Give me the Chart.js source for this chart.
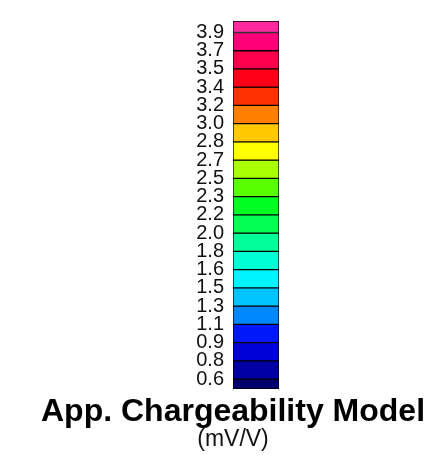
<!DOCTYPE html>
<html>
<head>
<meta charset="utf-8">
<script src="https://cdn.jsdelivr.net/npm/chart.js@4"></script>
<style>
html,body{margin:0;padding:0;background:#fff;}
#wrap{width:428px;height:461px;position:relative;}
</style>
</head>
<body>
<div id="wrap"><canvas id="c"></canvas></div>
<script>
// Colour-level boundaries (mV/V), bottom to top
const boundaries = [0.48, 0.575, 0.75, 0.925, 1.1, 1.275, 1.45, 1.625, 1.8, 1.975, 2.15, 2.325, 2.5, 2.675, 2.85, 3.025, 3.2, 3.375, 3.55, 3.725, 3.9, 4.01];
// Tick positions and their labels, bottom to top
const tickValues = [0.575, 0.75, 0.925, 1.1, 1.275, 1.45, 1.625, 1.8, 1.975, 2.15, 2.325, 2.5, 2.675, 2.85, 3.025, 3.2, 3.375, 3.55, 3.725, 3.9];
const tickLabels = ['0.6','0.8','0.9','1.1','1.3','1.5','1.6','1.8','2.0','2.2','2.3','2.5','2.7','2.8','3.0','3.2','3.4','3.5','3.7','3.9'];
// Segment colours, bottom to top
const segmentColors = ['#00006e','#0000a4','#0000d8','#0018fa','#0088ff','#00c4ff','#00f4ff','#00ffd4','#00ff98','#00ff50','#00ff20','#58ff00','#aaff00','#ffff00','#ffc800','#ff8000','#ff3000','#ff0018','#ff004c','#ff0078','#ff2aa0'];
const titleText = 'App. Chargeability Model';
const unitText = '(mV/V)';

const segments = segmentColors.map((c, i) => ({x: 'bar', y: [boundaries[i], boundaries[i + 1]]}));

new Chart(document.getElementById('c'), {
  type: 'bar',
  data: {
    labels: ['bar'],
    datasets: [{
      data: segments,
      backgroundColor: segmentColors,
      borderColor: '#000',
      borderWidth: 1,
      borderSkipped: false,
      barPercentage: 1,
      categoryPercentage: 1
    }]
  },
  options: {
    responsive: true,
    maintainAspectRatio: false,
    animation: false,
    events: [],
    layout: {padding: {left: 38, right: 0, top: 11, bottom: 10}},
    plugins: {
      legend: {display: false},
      tooltip: {enabled: false},
      title: {
        display: true, text: titleText, position: 'bottom', weight: 1000,
        color: '#000', padding: {top: 7, bottom: 0},
        font: {family: 'Liberation Sans', size: 32, weight: 'bold', lineHeight: 1.0}
      },
      subtitle: {
        display: true, text: unitText, position: 'bottom', weight: 2000,
        color: '#111', padding: {top: 0, bottom: 0},
        font: {family: 'Liberation Sans', size: 23, weight: 'normal', lineHeight: 1.0}
      }
    },
    scales: {
      x: {display: false},
      y: {
        type: 'linear', position: 'left',
        min: boundaries[0], max: boundaries[boundaries.length - 1],
        grid: {display: false, drawTicks: false},
        border: {display: false},
        afterBuildTicks: s => { s.ticks = tickValues.map(v => ({value: v})); },
        afterFit: s => { s.width = 195; },
        ticks: {
          autoSkip: false, padding: 9, color: '#111',
          font: {family: 'Liberation Sans', size: 20},
          callback: (v, i) => tickLabels[i]
        }
      },
      yR: {
        type: 'linear', position: 'right', display: true,
        grid: {display: false, drawTicks: false},
        border: {display: false},
        ticks: {display: false},
        afterFit: s => { s.width = 149; }
      }
    }
  }
});
</script>
</body>
</html>
